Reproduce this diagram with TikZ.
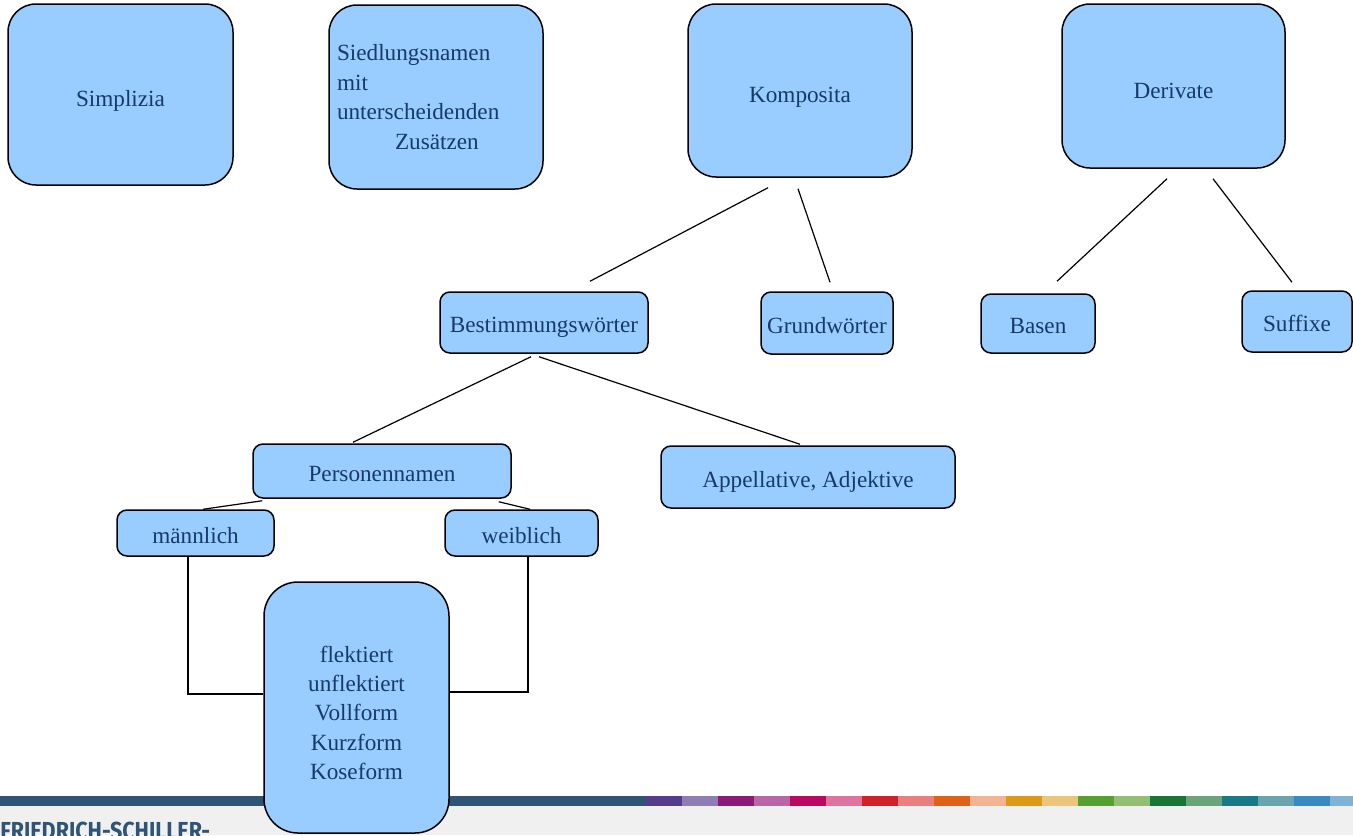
\documentclass[tikz,border=0pt]{standalone}
\usepackage{fontspec}
\setmainfont{Liberation Serif}
\newfontfamily\footfont{Fira Sans}
\definecolor{boxblue}{HTML}{99CCFF}
\definecolor{textblue}{HTML}{173A68}
\definecolor{footblue}{HTML}{2F5476}
\definecolor{footgray}{HTML}{F0F0F0}
\definecolor{c1}{HTML}{553B8E}
\definecolor{c2}{HTML}{8E7EB5}
\definecolor{c3}{HTML}{8D1A79}
\definecolor{c4}{HTML}{B866A6}
\definecolor{c5}{HTML}{BB0860}
\definecolor{c6}{HTML}{DE73A0}
\definecolor{c7}{HTML}{D12229}
\definecolor{c8}{HTML}{EA7F7F}
\definecolor{c9}{HTML}{DE6318}
\definecolor{c10}{HTML}{F2B492}
\definecolor{c11}{HTML}{DD9A16}
\definecolor{c12}{HTML}{EBC67A}
\definecolor{c13}{HTML}{56A02F}
\definecolor{c14}{HTML}{91C074}
\definecolor{c15}{HTML}{177535}
\definecolor{c16}{HTML}{6BA37A}
\definecolor{c17}{HTML}{187A89}
\definecolor{c18}{HTML}{6AA4AE}
\definecolor{c19}{HTML}{388BC0}
\definecolor{c20}{HTML}{7EB3D6}
\begin{document}
\begin{tikzpicture}[x=0.5pt, y=-0.5pt,
    box/.style = {draw, line width=0.75pt, fill=boxblue, text=textblue, inner sep=0pt, align=center, font=\fontsize{11.6}{14.7}\selectfont},
    big/.style = {box, rounded corners=14pt, text height=15pt, text depth=2.6pt},
    small/.style = {box, rounded corners=5pt, text height=13pt, text depth=2.6pt},
    link/.style = {line width=0.6pt}]
    \useasboundingbox (0,0) rectangle (1353,835);
    % footer
    \fill[footgray] (0,806) rectangle (1353,835);
    \fill[footblue] (0,796) rectangle (646,806);
    \foreach \c [count=\i from 0] in {c1,c2,c3,c4,c5,c6,c7,c8,c9,c10,c11,c12,c13,c14,c15,c16,c17,c18,c19,c20}
        \fill[\c] (646+36*\i,796) rectangle (682+36*\i,806);
    \node[anchor=north west, inner sep=0pt, xscale=0.875, text=footblue, font=\footfont\bfseries\fontsize{12.3}{14}\selectfont] (uni) at (0,822) {FRIEDRICH-SCHILLER-};
    % top row
    \node[big, minimum width=112.5pt, minimum height=90.5pt] (simp) at (120.5,94.5) {Simplizia};
    \node[box, rounded corners=14pt, minimum width=107pt, minimum height=92pt, text width=99pt, inner xsep=4pt, align=left] (sied) at (436,97) {Siedlungsnamen\\mit\\unterscheidenden\\\hspace*{29pt}Zusätzen};
    \node[big, minimum width=112pt, minimum height=86.5pt] (komp) at (800,90.5) {Komposita};
    \node[big, minimum width=111.5pt, minimum height=82pt] (deriv) at (1173.5,86) {Derivate};
    % second row
    \node[small, minimum width=104pt, minimum height=30.5pt] (best) at (544,322.5) {Bestimmungswörter};
    \node[small, minimum width=66pt, minimum height=31pt] (grund) at (827,323) {Grundwörter};
    \node[small, minimum width=57pt, minimum height=29.5pt] (basen) at (1038,323.5) {Basen};
    \node[small, minimum width=55pt, minimum height=30.5pt] (suff) at (1297,321.5) {Suffixe};
    % third row
    \node[small, minimum width=129pt, minimum height=27pt] (pers) at (382,471) {Personennamen};
    \node[small, minimum width=147pt, minimum height=31pt] (appell) at (808,477) {Appellative, Adjektive};
    \node[small, minimum width=78.5pt, minimum height=23pt] (maenn) at (195.5,533) {männlich};
    \node[small, minimum width=76.5pt, minimum height=23pt] (weib) at (521.5,533) {weiblich};
    \node[box, rounded corners=17pt, minimum width=92.5pt, minimum height=125.5pt] (flek) at (356.5,707.5) {\rule{0pt}{13.5pt}flektiert\\unflektiert\\Vollform\\Kurzform\\Koseform};
    % connectors
    \draw[link] ([shift={(-32,10)}]komp.south) -- ([shift={(46,-10)}]best.north);
    \draw[link] ([shift={(-2,11)}]komp.south) -- ([shift={(3,-9)}]grund.north);
    \draw[link] ([shift={(-6.5,10)}]deriv.south) -- ([shift={(19,-12)}]basen.north);
    \draw[link] ([shift={(39.5,10)}]deriv.south) -- ([shift={(-5,-8)}]suff.north);
    \draw[link] ([shift={(-13,3)}]best.south) -- ([shift={(-29,-1)}]pers.north);
    \draw[link] ([shift={(-5,3)}]best.south) -- ([shift={(-8,-1)}]appell.north);
    \draw[link] ([shift={(10,2)}]pers.south west) -- ([shift={(7.5,0)}]maenn.north);
    \draw[link] ([shift={(-13,3)}]pers.south east) -- ([shift={(8.5,0)}]weib.north);
    \draw[link] ([shift={(-7.5,0)}]maenn.south) |- ([shift={(0,-13.5)}]flek.west);
    \draw[link] ([shift={(6.5,0)}]weib.south) |- ([shift={(0,-15.5)}]flek.east);
\end{tikzpicture}
\end{document}
